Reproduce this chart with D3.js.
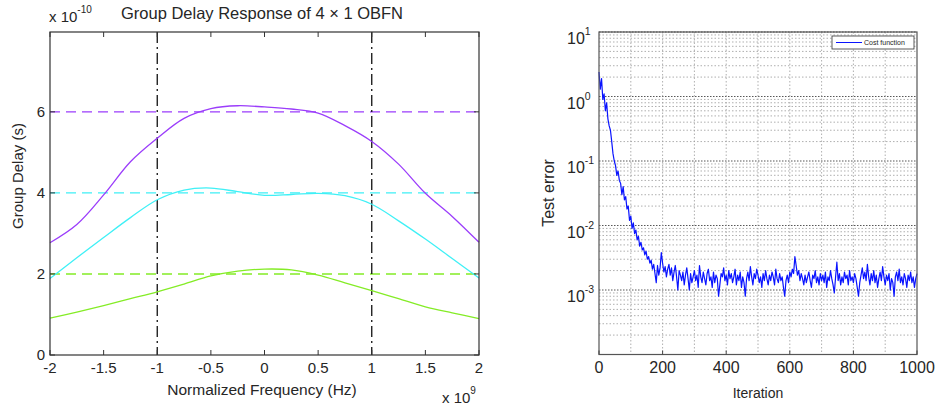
<!DOCTYPE html>
<html><head><meta charset="utf-8">
<script src="https://cdn.jsdelivr.net/npm/d3@7"></script>
<style>
body{margin:0;background:#fff;}
text{font-family:"Liberation Sans",Arial,sans-serif;fill:#262626;}
</style></head>
<body><svg id="c" width="942" height="405"></svg>
<script>
// ---------- Left chart data (group delay, units of 1e-10 s; freq in units of 1e9 Hz) ----------
const freq = [-2,-1.75,-1.5,-1.25,-1,-0.75,-0.5,-0.25,0,0.25,0.5,0.75,1,1.25,1.5,1.75,2];
const delayPurple = [2.77,3.22,3.95,4.77,5.35,5.84,6.08,6.15,6.12,6.07,5.97,5.66,5.27,4.71,3.99,3.42,2.78];
const delayCyan   = [1.89,2.40,2.90,3.39,3.83,4.07,4.12,4.03,3.94,3.96,3.99,3.93,3.72,3.31,2.86,2.38,1.90];
const delayGreen  = [0.91,1.06,1.22,1.39,1.56,1.75,1.95,2.07,2.12,2.10,1.97,1.78,1.59,1.39,1.19,1.04,0.90];
const targetDelays = [6,4,2];
const markerFreqs = [-1,1];
const xTicksLeft = [-2,-1.5,-1,-0.5,0,0.5,1,1.5,2];
const yTicksLeft = [0,2,4,6];

// ---------- Right chart data (test error vs iteration) ----------
const iterStep = 4;
const testError = [
2.4,1.3,1.9,0.9,1.1,0.6,0.8,0.45,0.35,0.3,
0.2,0.13,0.1,0.085,0.06,0.07,0.05,0.045,0.03,0.04,
0.025,0.028,0.018,0.02,0.012,0.014,0.009,0.011,0.0075,0.0085,
0.006,0.0068,0.0048,0.0055,0.0042,0.0045,0.0035,0.004,0.003,0.0033,
0.0026,0.0029,0.0021,0.0025,0.0018,0.0013,0.0024,0.0017,0.0022,0.0038,
0.0026,0.0019,0.0023,0.0016,0.0021,0.0025,0.0017,0.0022,0.0014,0.0019,
0.0024,0.0016,0.0010,0.0020,0.0017,
0.0014,0.0019,0.0012,0.0017,0.0022,0.0015,0.0010,0.0018,0.0013,0.0016,
0.0020,0.0014,0.0017,0.0011,0.0024,0.0016,0.0013,0.0019,0.0015,0.0012,
0.0018,0.0021,0.0014,0.0016,0.0011,0.0019,0.0013,0.0017,0.0015,0.0008,
0.0012,0.0018,0.0016,0.0022,0.0014,0.0017,0.0012,0.0020,0.0015,0.0018,
0.0013,0.0016,0.0021,0.0012,0.0017,0.0014,0.0019,0.0011,0.0016,0.0013,
0.0008,0.0015,0.0019,0.0014,0.0023,0.0016,0.0012,0.0018,0.0015,0.0021,
0.0017,0.0013,0.0016,0.0011,0.0018,0.0014,0.0020,0.0015,0.0012,0.0017,
0.0014,0.0019,0.0016,0.0012,0.0021,0.0015,0.0013,0.0018,0.0014,0.0016,
0.0011,0.0008,0.0014,0.0017,0.0013,0.0019,0.0016,0.0021,0.0018,0.0033,
0.0024,0.0017,0.0020,0.0014,0.0018,0.0015,0.0012,0.0017,0.0013,0.0016,
0.0019,0.0014,0.0011,0.0017,0.0015,0.0020,0.0013,0.0016,0.0012,0.0018,
0.0014,0.0017,0.0013,0.0019,0.0011,0.0016,0.0014,0.0020,0.0015,0.0012,
0.0009,0.0016,0.0027,0.0014,0.0018,0.0012,0.0016,0.0013,0.0019,0.0015,
0.0017,0.0012,0.0020,0.0014,0.0016,0.0013,0.0018,0.0015,0.0011,0.0008,
0.0013,0.0017,0.0022,0.0015,0.0019,0.0014,0.0025,0.0016,0.0012,0.0018,
0.0014,0.0020,0.0013,0.0017,0.0011,0.0015,0.0019,0.0014,0.0023,0.0016,
0.0012,0.0017,0.0014,0.0018,0.0010,0.0015,0.0013,0.0008,0.0016,0.0019,
0.0014,0.0021,0.0013,0.0016,0.0012,0.0018,0.0015,0.0011,0.0017,0.0014,
0.0019,0.0013,0.0016,0.0011,0.0015,0.0018];
const xTicksRight = [0,200,400,600,800,1000];
const xGridRight = [100,200,300,400,500,600,700,800,900];
const yDecades = [-4,-3,-2,-1,0,1];
const yLabelDecades = [-3,-2,-1,0,1];

const svg = d3.select("#c");

// ================= LEFT CHART =================
const L = {x0:50,x1:479,y0:32,y1:355};
const xL = d3.scaleLinear().domain([-2,2]).range([L.x0,L.x1]);
const yL = d3.scaleLinear().domain([0,7.97]).range([L.y1,L.y0]);
const gL = svg.append("g");

const colors = ["#9b3dfb","#3ff0f6","#84ec26"];
targetDelays.forEach((v,i)=>{
  gL.append("line").attr("x1",xL(-2)).attr("x2",xL(2)).attr("y1",yL(v)).attr("y2",yL(v))
    .attr("stroke",colors[i]).attr("stroke-width",1.4).attr("stroke-dasharray","10,6");
});
markerFreqs.forEach(f=>{
  gL.append("line").attr("x1",xL(f)).attr("x2",xL(f)).attr("y1",L.y0).attr("y2",L.y1)
    .attr("stroke","#111").attr("stroke-width",1.3).attr("stroke-dasharray","11,4,2,4");
});
const lineL = d3.line().x((d,i)=>xL(freq[i])).y(d=>yL(d)).curve(d3.curveCatmullRom.alpha(0.5));
[delayPurple,delayCyan,delayGreen].forEach((s,i)=>{
  gL.append("path").attr("d",lineL(s)).attr("fill","none").attr("stroke",colors[i]).attr("stroke-width",1.3);
});
gL.append("rect").attr("x",L.x0).attr("y",L.y0).attr("width",L.x1-L.x0).attr("height",L.y1-L.y0)
  .attr("fill","none").attr("stroke","#333").attr("stroke-width",1.2);
const tk=5;
xTicksLeft.forEach(t=>{
  gL.append("line").attr("x1",xL(t)).attr("x2",xL(t)).attr("y1",L.y1).attr("y2",L.y1-tk).attr("stroke","#333");
  gL.append("line").attr("x1",xL(t)).attr("x2",xL(t)).attr("y1",L.y0).attr("y2",L.y0+tk).attr("stroke","#333");
  gL.append("text").attr("x",xL(t)).attr("y",373).attr("text-anchor","middle").attr("font-size",15).text(t);
});
yTicksLeft.forEach(t=>{
  gL.append("line").attr("x1",L.x0).attr("x2",L.x0+tk).attr("y1",yL(t)).attr("y2",yL(t)).attr("stroke","#333");
  gL.append("line").attr("x1",L.x1).attr("x2",L.x1-tk).attr("y1",yL(t)).attr("y2",yL(t)).attr("stroke","#333");
  gL.append("text").attr("x",45).attr("y",yL(t)+5).attr("text-anchor","end").attr("font-size",15).text(t);
});
gL.append("text").attr("x",262).attr("y",19).attr("text-anchor","middle").attr("font-size",16.5)
  .text("Group Delay Response of 4 \u00d7 1 OBFN");
const exL = gL.append("text").attr("x",49).attr("y",22).attr("font-size",15);
exL.append("tspan").text("x 10");
exL.append("tspan").attr("dy",-9).attr("font-size",10).text("-10");
gL.append("text").attr("x",262).attr("y",395).attr("text-anchor","middle").attr("font-size",15.5)
  .text("Normalized Frequency (Hz)");
const exB = gL.append("text").attr("x",442).attr("y",403).attr("font-size",15);
exB.append("tspan").text("x 10");
exB.append("tspan").attr("dy",-9).attr("font-size",10).text("9");
gL.append("text").attr("transform","translate(23,176) rotate(-90)").attr("text-anchor","middle")
  .attr("font-size",15).text("Group Delay (s)");

// ================= RIGHT CHART =================
const R = {x0:599,x1:917,y0:32,y1:354.5};
const xR = d3.scaleLinear().domain([0,1000]).range([R.x0,R.x1]);
const yR = d3.scaleLog().domain([1e-4,1e1]).range([R.y1,R.y0]);
const gR = svg.append("g");

yDecades.slice(0,-1).forEach(d=>{
  for(let m=2;m<=9;m++){
    const v=m*Math.pow(10,d);
    gR.append("line").attr("x1",R.x0).attr("x2",R.x1).attr("y1",yR(v)).attr("y2",yR(v))
      .attr("stroke","#9a9a9a").attr("stroke-width",0.8).attr("stroke-dasharray","1.5,2");
  }
});
yDecades.forEach(d=>{
  const v=Math.pow(10,d);
  gR.append("line").attr("x1",R.x0).attr("x2",R.x1).attr("y1",yR(v)).attr("y2",yR(v))
    .attr("stroke","#444").attr("stroke-width",0.9).attr("stroke-dasharray","1.5,1.5");
});
xGridRight.forEach(t=>{
  gR.append("line").attr("x1",xR(t)).attr("x2",xR(t)).attr("y1",R.y0).attr("y2",R.y1)
    .attr("stroke","#9a9a9a").attr("stroke-width",0.8).attr("stroke-dasharray","1.5,2");
});
const lineR = d3.line().x((d,i)=>xR(i*iterStep)).y(d=>yR(d));
gR.append("path").attr("d",lineR(testError)).attr("fill","none").attr("stroke","#0a14ff")
  .attr("stroke-width",1.2).attr("stroke-linejoin","round");
gR.append("rect").attr("x",R.x0).attr("y",R.y0).attr("width",R.x1-R.x0).attr("height",R.y1-R.y0)
  .attr("fill","none").attr("stroke","#555").attr("stroke-width",1.2);
xTicksRight.forEach(t=>{
  gR.append("line").attr("x1",xR(t)).attr("x2",xR(t)).attr("y1",R.y1).attr("y2",R.y1-4).attr("stroke","#444");
  gR.append("text").attr("x",xR(t)).attr("y",373).attr("text-anchor","middle").attr("font-size",16).text(t);
});
yLabelDecades.forEach(d=>{
  const t = gR.append("text").attr("x",567).attr("y",yR(Math.pow(10,d))+12).attr("font-size",16);
  t.append("tspan").text("10");
  t.append("tspan").attr("dy",-9).attr("font-size",10.5).text(d);
});
gR.append("text").attr("transform","translate(554,193) rotate(-90)").attr("text-anchor","middle")
  .attr("font-size",16).text("Test error");
gR.append("text").attr("x",758).attr("y",398).attr("text-anchor","middle").attr("font-size",14).text("Iteration");
const lg = gR.append("g");
lg.append("rect").attr("x",832).attr("y",36).attr("width",82).attr("height",13)
  .attr("fill","#fff").attr("stroke","#333").attr("stroke-width",0.8);
lg.append("line").attr("x1",836).attr("x2",862).attr("y1",42.5).attr("y2",42.5).attr("stroke","#0a14ff");
lg.append("text").attr("x",864).attr("y",45.3).attr("font-size",7).text("Cost function");
</script></body></html>
